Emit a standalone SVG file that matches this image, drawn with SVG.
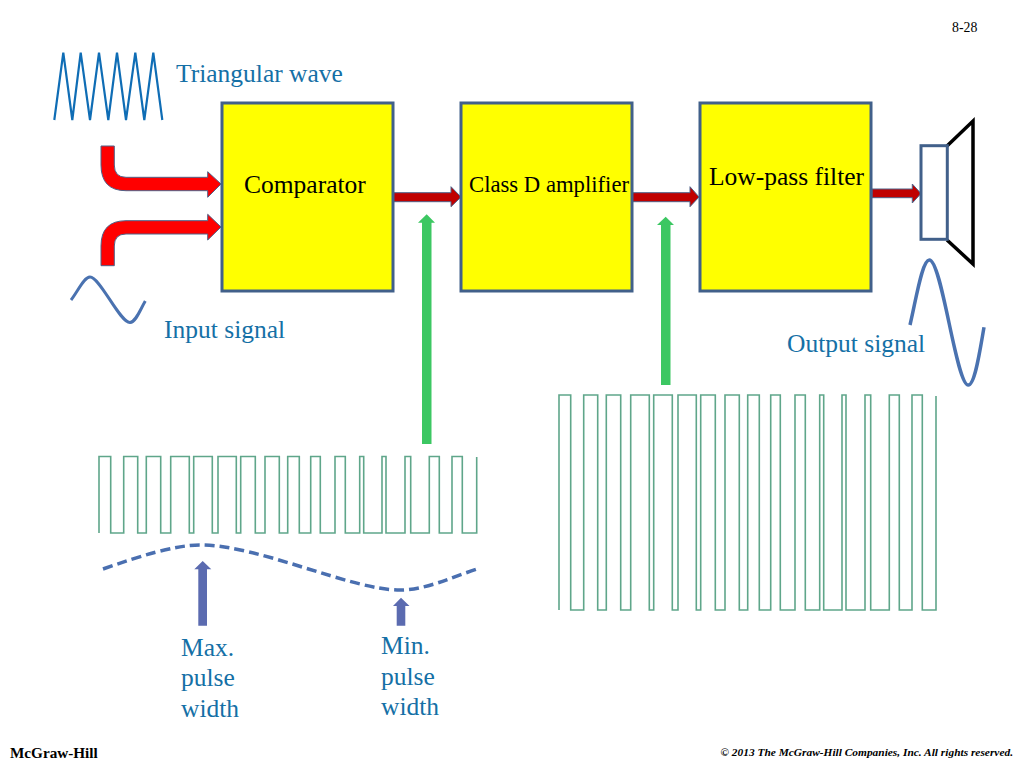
<svg xmlns="http://www.w3.org/2000/svg" width="1024" height="768" viewBox="0 0 1024 768">
<style>
text{font-family:"Liberation Serif","Times New Roman",serif}
.b{font-size:25.500px;fill:#1570a6}
.k{font-size:25.500px;fill:#000}
.box{fill:#ff0;stroke:#41608a;stroke-width:3}
.red{fill:#f00;stroke:#4f6288;stroke-width:1}
.dred{fill:#c00000;stroke:#4f6288;stroke-width:1}
.green{fill:#3cc762}
.ind{fill:#5b6bb0}
.pwm{fill:none;stroke:#5fa68a;stroke-width:1.600}
</style>
<rect width="1024" height="768" fill="#fff"/>
<g id="connectors">
<path class="red" d="M101 146H114.300V165Q114.300 177.300 126 177.300H207.700V171.700L221 184L207.700 197.300V190.700H126Q101 190.700 101 165Z"/>
<path class="red" d="M101 265.700H114.300V246Q114.300 234 126 234H207.700V240L221 227L207.700 214.300V220.700H126Q101 220.700 101 246Z"/>
<path class="dred" d="M393 192.700H451V186.700L461 197L451 206.700V201.700H393Z"/>
<path class="dred" d="M632 192.700H690V186.700L699 197L690 206.700V201.700H632Z"/>
<path class="dred" d="M872 189H912.300V184L921 193.500L912.300 203V197.700H872Z"/>
<path class="green" d="M426.700 214.300L435 222.700H431.500V444H422V222.700H418Z"/>
<path class="green" d="M665.700 216.700L674 225H670.500V385H661V225H657Z"/>
<path class="ind" d="M202.700 561L211.300 569.300H207V625.700H198.300V569.300H194.300Z"/>
<path class="ind" d="M401 597.700L409.500 606H405.300V625.700H396.700V606H393Z"/>
</g>
<g id="triangular-wave"><path fill="none" stroke="#0f6db5" stroke-width="2.200" d="M54.300 120L63.300 52.700L72.300 120L80.700 52.700L90 120L99 52.700L108.300 120L117 52.700L126 120L135.300 52.700L144.300 120L153.300 52.700L162.300 120"/></g>
<g id="input-sine"><path fill="none" stroke="#4a72b0" stroke-width="3" d="M71 300C78 291 84 277 90 277C100 277 120 323 130 322.500C136 322 140 310 145.300 301"/></g>
<g id="comparator"><rect class="box" x="222" y="103" width="171" height="188"/><text class="k" x="244" y="193">Comparator</text></g>
<g id="class-d-amplifier"><rect class="box" x="461" y="103" width="171" height="188"/><text x="469" y="192" font-size="22.700" fill="#000">Class D amplifier</text></g>
<g id="low-pass-filter"><rect class="box" x="700" y="103" width="171" height="188"/><text class="k" x="709" y="185">Low-pass filter</text></g>
<g id="speaker">
<path fill="none" stroke="#000" stroke-width="3.500" d="M947 146L973 121V264L947 240"/>
<rect x="921" y="145.700" width="26.300" height="93.600" fill="#fff" stroke="#41608a" stroke-width="3"/>
</g>
<g id="output-sine"><path fill="none" stroke="#4a72b0" stroke-width="3.500" d="M910 325C916 300 922 260 929.300 260C942 260 956 385 968.300 385C975 385 980 350 984 327.300"/></g>
<g id="pwm-left"><path class="pwm" d="M99 533V456.500H110.700V533H123.700V456.500H137.700V533H146.300V456.500H160.700V533H170.700V456.500H189.300V533H193.700V456.500H212.300V533H218V456.500H236.300V533H240.700V456.500H255.300V533H265V456.500H279.300V533H287.700V456.500H299.300V533H310.700V456.500H320.300V533H335V456.500H345.300V533H359.700V456.500H363.700V533H382V456.500H386V533H405V456.500H410.700V533H429.300V456.500H439.300V533H452V456.500H462.300V533H476.700V457"/></g>
<g id="pwm-right"><path class="pwm" d="M559 610V395H570.700V610H583.700V395H597.700V610H606.300V395H620.700V610H630.700V395H649.300V610H653.700V395H672.300V610H678V395H696.300V610H700.700V395H715.300V610H725V395H739.300V610H747.700V395H759.300V610H770.700V395H780.300V610H795V395H805.300V610H819.700V395H823.700V610H842V395H846V610H865V395H870.700V610H889.300V395H899.300V610H912V395H922.300V610H936V396"/></g>
<g id="envelope"><path fill="none" stroke="#4a6fb0" stroke-width="3.500" stroke-dasharray="10 5" d="M103 569C140 556 175 545 200 545C260 545 350 590 400 590C425 590 450 578 477 569"/></g>
<g id="labels">
<text x="952" y="32" font-size="13.800" fill="#000">8-28</text>
<text class="b" x="176" y="82">Triangular wave</text>
<text class="b" x="164" y="338">Input signal</text>
<text class="b" x="787" y="352">Output signal</text>
<text class="b" x="181" y="656">Max.</text>
<text class="b" x="181" y="686">pulse</text>
<text class="b" x="181" y="717">width</text>
<text class="b" x="381" y="654">Min.</text>
<text class="b" x="381" y="685">pulse</text>
<text class="b" x="381" y="715">width</text>
<text x="10" y="758" font-size="15.200" font-weight="bold" fill="#000">McGraw-Hill</text>
<text x="1013" y="756" font-size="11.400" font-weight="bold" font-style="italic" text-anchor="end" fill="#000">© 2013 The McGraw-Hill Companies, Inc. All rights reserved.</text>
</g>
</svg>
